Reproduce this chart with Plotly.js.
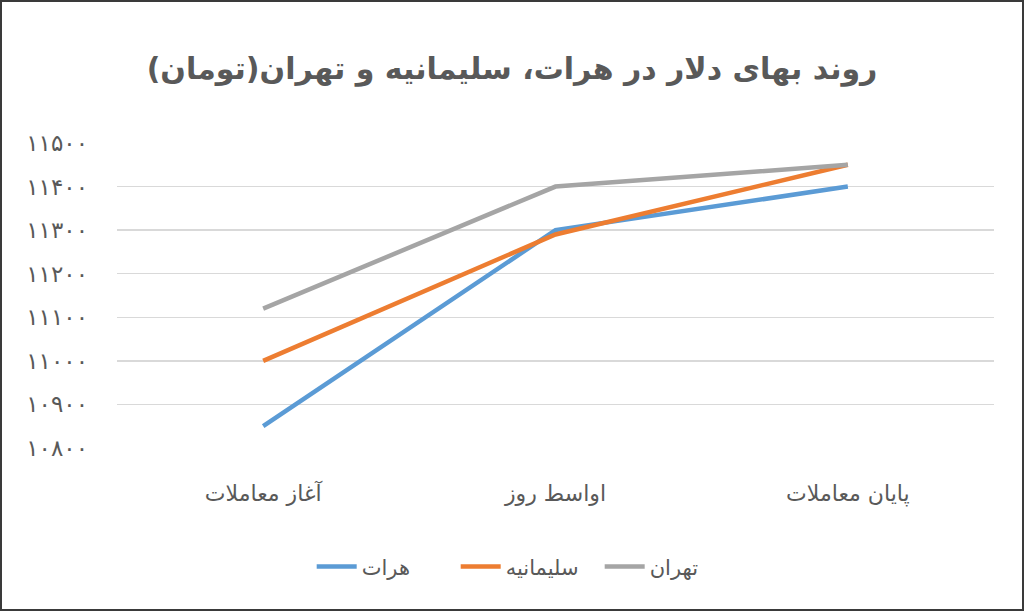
<!DOCTYPE html>
<html>
<head>
<meta charset="utf-8">
<script src="https://cdn.plot.ly/plotly-3.0.1.min.js"></script>
<style>
  html, body { margin: 0; padding: 0; background: #fff; }
  #chart { width: 1020px; height: 607px; border: 2px solid #3a3a3a; }
</style>
</head>
<body>
<div id="chart"></div>
<script>
const categories = ['آغاز معاملات', 'اواسط روز', 'پایان معاملات']
const herat = [10850, 11300, 11400]
const sulaymaniyah = [11000, 11290, 11450]
const tehran = [11120, 11400, 11450]
const yTickVals = [10800, 10900, 11000, 11100, 11200, 11300, 11400, 11500]
const yTickText = ['۱۰۸۰۰', '۱۰۹۰۰', '۱۱۰۰۰', '۱۱۱۰۰', '۱۱۲۰۰', '۱۱۳۰۰', '۱۱۴۰۰', '۱۱۵۰۰']

const fontFamily = 'DejaVu Sans, sans-serif'
const textColor = '#595959'

function series (name, values, color) {
  return {
    x: categories,
    y: values,
    name: name,
    type: 'scatter',
    mode: 'lines',
    line: { color: color, width: 4.5 },
    hoverinfo: 'skip'
  }
}

const data = [
  series('هرات', herat, '#5B9BD5'),
  series('سلیمانیه', sulaymaniyah, '#ED7D31'),
  series('تهران', tehran, '#A5A5A5')
]

const layout = {
  width: 1020,
  height: 607,
  margin: { l: 115, r: 28, t: 141, b: 161 },
  paper_bgcolor: '#fff',
  plot_bgcolor: '#fff',
  font: { family: fontFamily, color: textColor },
  title: {
    text: '<b>روند بهای دلار در هرات، سلیمانیه و تهران(تومان)</b>',
    font: { family: fontFamily, size: 30, color: textColor },
    x: 0.5,
    xanchor: 'center',
    y: 0.89,
    yanchor: 'middle'
  },
  xaxis: {
    type: 'category',
    range: [-0.5, 2.5],
    showgrid: false,
    zeroline: false,
    showline: false,
    ticks: '',
    ticklabelstandoff: 30,
    tickfont: { family: fontFamily, size: 22, color: textColor }
  },
  yaxis: {
    range: [10800, 11500],
    tickvals: yTickVals,
    ticktext: yTickText,
    showgrid: true,
    gridcolor: '#D9D9D9',
    gridwidth: 1.3,
    zeroline: false,
    showline: false,
    ticks: '',
    ticklabelstandoff: 28,
    tickfont: { family: fontFamily, size: 23, color: textColor }
  },
  showlegend: true,
  legend: {
    orientation: 'h',
    x: 0.222,
    xanchor: 'left',
    y: -0.39,
    yanchor: 'middle',
    font: { family: fontFamily, size: 21, color: textColor },
    itemwidth: 40,
    entrywidth: 89,
    entrywidthmode: 'pixels'
  }
}

Plotly.newPlot('chart', data, layout, { displayModeBar: false, staticPlot: true })
</script>
</body>
</html>
